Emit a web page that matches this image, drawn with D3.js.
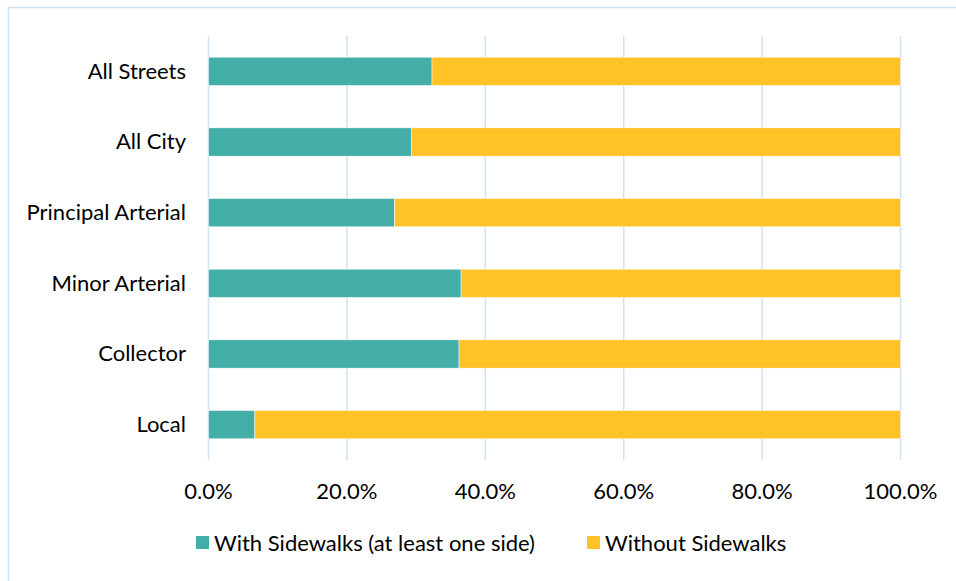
<!DOCTYPE html>
<html><head><meta charset="utf-8">
<script src="https://cdn.jsdelivr.net/npm/d3@7"></script>
<style>body{margin:0;background:#fff}svg{display:block}text{font-family:Lato,"Open Sans",sans-serif;fill:#000}</style>
</head><body><svg id="c" width="956" height="581"></svg>
<script>
const categories = ["All Streets","All City","Principal Arterial","Minor Arterial","Collector","Local"];
const withSidewalks = [0.323, 0.293, 0.269, 0.365, 0.362, 0.067];
const withoutSidewalks = withSidewalks.map(v => 1 - v);
const seriesNames = ["With Sidewalks (at least one side)", "Without Sidewalks"];
const tickValues = [0, 0.2, 0.4, 0.6, 0.8, 1.0];
const colors = ["#43AEA8", "#FFC328"];

const svg = d3.select("#c");
svg.append("rect").attr("x",8.5).attr("y",7.5).attr("width",1000).attr("height",1000)
  .attr("fill","#fff").attr("stroke","#D0E2F3").attr("stroke-width",1.5);

const x = d3.scaleLinear().domain([0,1]).range([208.5,900.5]);
const y = d3.scaleBand().domain(categories).range([36,460]).paddingInner(0.6).paddingOuter(0.3);

svg.append("g").selectAll("line").data(tickValues).join("line")
  .attr("x1",d=>x(d)).attr("x2",d=>x(d)).attr("y1",36).attr("y2",460)
  .attr("stroke","#D0E2F3").attr("stroke-width",1.5);

const rows = categories.map((c,i)=>({c, a:withSidewalks[i], b:withoutSidewalks[i]}));
const g = svg.append("g");
g.selectAll("rect.a").data(rows).join("rect").attr("class","a")
  .attr("x",x(0)).attr("y",d=>y(d.c)).attr("width",d=>x(d.a)-x(0)).attr("height",y.bandwidth())
  .attr("fill",colors[0]).attr("stroke","#fff").attr("stroke-width",0.5);
g.selectAll("rect.b").data(rows).join("rect").attr("class","b")
  .attr("x",d=>x(d.a)).attr("y",d=>y(d.c)).attr("width",d=>x(d.a+d.b)-x(d.a)).attr("height",y.bandwidth())
  .attr("fill",colors[1]).attr("stroke","#fff").attr("stroke-width",0.5);

svg.append("g").selectAll("text").data(categories).join("text")
  .attr("x",186).attr("y",d=>y(d)+y.bandwidth()/2).attr("dy","0.33em")
  .attr("text-anchor","end").attr("font-size",22).text(d=>d);

const fmt = d3.format(".1%");
svg.append("g").selectAll("text").data(tickValues).join("text")
  .attr("x",d=>x(d)).attr("y",499).attr("text-anchor","middle").attr("font-size",22).text(d=>fmt(d));

const legX = [196, 587];
const leg = svg.append("g").selectAll("g").data(seriesNames).join("g")
  .attr("transform",(d,i)=>`translate(${legX[i]},536)`);
leg.append("rect").attr("width",13).attr("height",13).attr("fill",(d,i)=>colors[i]);
leg.append("text").attr("x",18).attr("y",15).attr("font-size",22).text(d=>d);
</script></body></html>
